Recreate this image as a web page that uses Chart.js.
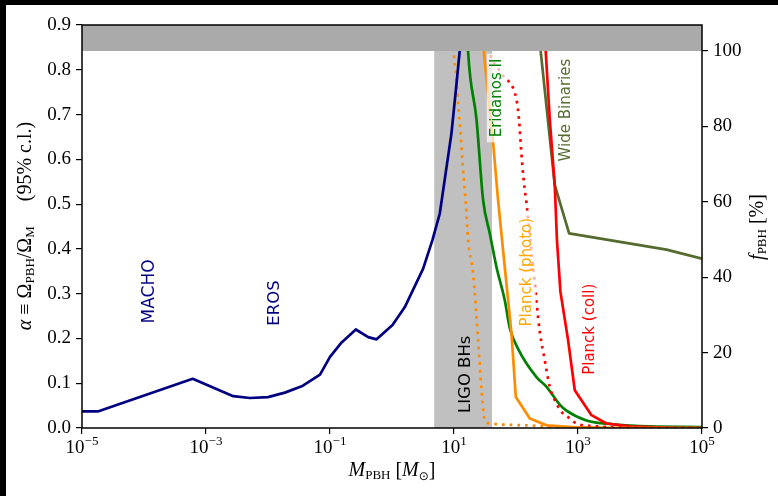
<!DOCTYPE html>
<html lang="en">
<head>
<meta charset="UTF-8">
<title>PBH abundance constraints</title>
<script src="https://cdn.jsdelivr.net/npm/chart.js@4.4.0/dist/chart.umd.min.js"></script>
<style>
  html, body { margin: 0; padding: 0; background: #000; overflow: hidden; }
  #wrap { position: absolute; left: 6px; top: 5px; width: 772px; height: 491px; background: #fff; }
</style>
</head>
<body>
<div id="wrap"><canvas id="chart" width="772" height="491"></canvas></div>
<script>
// tick values
const massTicks = [1e-5, 1e-3, 1e-1, 1e1, 1e3, 1e5];
const alphaTicks = [0.0, 0.1, 0.2, 0.3, 0.4, 0.5, 0.6, 0.7, 0.8, 0.9];
const fTicks = [0, 20, 40, 60, 80, 100];

// Omega_DM / Omega_M : alpha at f_PBH = 100%
const omegaRatio = 0.842;
const ligoBand = [4.8, 41];

// MACHO + EROS microlensing bound (alpha, left axis)
const machoErosMass = [1e-5, 1.8e-5, 6.1e-4, 2.75e-3, 5.1e-3, 1.0e-2, 1.87e-2, 3.5e-2, 6.9e-2, 0.1, 0.154, 0.261, 0.413, 0.564, 1.02, 1.61, 3.18, 4.5, 5.9, 9.1, 11.0, 12.4, 13.8];
const machoErosAlpha = [0.037, 0.037, 0.110, 0.071, 0.067, 0.069, 0.079, 0.093, 0.119, 0.159, 0.191, 0.220, 0.203, 0.198, 0.230, 0.270, 0.356, 0.420, 0.479, 0.658, 0.770, 0.844, 0.93];

// the rest are f_PBH in % (right axis)
const eridanosMass = [16.2, 16.9, 23.1, 29.5, 37.8, 48.4, 65.9, 79.4, 108, 214, 316, 508, 652, 1370, 3670, 9910, 1e5];
const eridanosF = [107, 99.7, 81.7, 60.4, 51.6, 42.7, 33.9, 26.5, 21.0, 13.5, 10.8, 6.2, 4.6, 2.0, 1.0, 0.5, 0.27];

const photoDotMass = [9.55, 9.93, 10.7, 11.6, 12.9, 14.0, 15.5, 16.9, 20.3, 24.5, 27.8, 31.4, 35.5, 148, 508, 2000, 1e5];
const photoDotF = [107, 99.8, 94.1, 86.1, 77.3, 68.4, 59.6, 49.8, 41.0, 23.3, 10.0, 2.0, 1.3, 0.7, 0.2, 0.0, 0.0];

const photoMass = [28.8, 30.3, 42.8, 51.4, 61.9, 84.5, 99.3, 167, 310, 832, 3160, 1e5];
const photoF = [107, 99.7, 75.5, 60.4, 47.1, 25.1, 8.2, 2.5, 0.7, 0.27, 0.05, 0.0];

const collDotMass = [33.1, 37.8, 51.4, 65.9, 84.5, 102, 112, 122, 133, 148, 187, 242, 291, 351, 450, 574, 692, 944, 1990, 6310, 1e5];
const collDotF = [107, 99.7, 95.4, 92.8, 91.0, 87.0, 81.7, 72.9, 65.7, 59.5, 43.1, 25.5, 18.0, 10.9, 6.5, 3.8, 2.9, 1.2, 0.45, 0.1, 0.0];

const collMass = [288, 302, 351, 423, 457, 521, 692, 887, 1650, 2880, 6820, 31600, 1e5];
const collF = [107, 99.7, 81.7, 64.0, 50.0, 36.1, 23.3, 10.0, 3.4, 1.2, 0.45, 0.05, 0.0];

const binariesMass = [240, 251, 422, 719, 26700, 1e5];
const binariesF = [107, 99.7, 64.4, 51.6, 47.3, 44.9];

// text annotations: mass, alpha position of the label centre
const notes = [
  { text: 'MACHO', color: '#000080', m: 1.25e-4, a: 0.305, size: 17, box: false },
  { text: 'EROS', color: '#000080', m: 1.29e-2, a: 0.279, size: 16.5, box: false },
  { text: 'LIGO BHs', color: '#000000', m: 15.5, a: 0.120, size: 16.5, box: false },
  { text: 'Eridanos II', color: '#008000', m: 49, a: 0.737, size: 15, box: true },
  { text: 'Planck (photo)', color: '#ffa500', m: 149, a: 0.348, size: 15, box: true },
  { text: 'Planck (coll)', color: '#ff0000', m: 1550, a: 0.2205, size: 15, box: true },
  { text: 'Wide Binaries', color: '#556b2f', m: 635, a: 0.710, size: 15, box: true }
];

const serif = "'Liberation Serif', 'DejaVu Serif', serif";
const sans = "'DejaVu Sans', sans-serif";

function pts(xs, ys) {
  return xs.map((x, i) => ({ x: x, y: ys[i] }));
}

function line(data, color, axis, dotted, smooth) {
  return {
    data: data,
    borderColor: color,
    borderWidth: 2.7,
    borderDash: dotted ? [2.7, 5] : [],
    borderJoinStyle: 'round',
    yAxisID: axis,
    pointRadius: 0,
    cubicInterpolationMode: smooth ? 'monotone' : 'default',
    tension: 0,
    fill: false
  };
}

// draw [text, font, dy] runs centred on x at baseline y
function drawRuns(ctx, runs, x, y) {
  let w = 0;
  runs.forEach(r => { ctx.font = r[1]; w += ctx.measureText(r[0]).width; });
  let cx = x - w / 2;
  ctx.textAlign = 'left';
  ctx.textBaseline = 'alphabetic';
  runs.forEach(r => {
    ctx.font = r[1];
    ctx.fillText(r[0], cx, y + (r[2] || 0));
    cx += ctx.measureText(r[0]).width;
  });
}

const decor = {
  id: 'decor',
  beforeDatasetsDraw(chart) {
    const { ctx, chartArea: a, scales: { x } } = chart;
    const x0 = x.getPixelForValue(ligoBand[0]);
    const x1 = x.getPixelForValue(ligoBand[1]);
    ctx.save();
    ctx.fillStyle = '#c0c0c0';
    ctx.fillRect(x0, a.top, x1 - x0, a.bottom - a.top);
    ctx.restore();
  },
  afterDatasetsDraw(chart) {
    const { ctx, chartArea: a, scales: { x, y, y2 } } = chart;
    ctx.save();
    // excluded region f > 100%
    const yb = y2.getPixelForValue(100);
    ctx.fillStyle = '#aaaaaa';
    ctx.fillRect(a.left, a.top, a.right - a.left, yb - a.top);

    // rotated curve labels
    notes.forEach(n => {
      ctx.save();
      ctx.translate(x.getPixelForValue(n.m), y.getPixelForValue(n.a));
      ctx.rotate(-Math.PI / 2);
      ctx.font = n.size + 'px ' + sans;
      const w = ctx.measureText(n.text).width;
      if (n.box) {
        ctx.fillStyle = 'rgba(255,255,255,0.7)';
        ctx.fillRect(-w / 2 - 5, -10, w + 10, 19);
      }
      ctx.fillStyle = n.color;
      ctx.textAlign = 'center';
      ctx.textBaseline = 'middle';
      ctx.fillText(n.text, 0, 0);
      ctx.restore();
    });

    // frame
    ctx.strokeStyle = '#000';
    ctx.lineWidth = 1.5;
    ctx.strokeRect(a.left, a.top, a.right - a.left, a.bottom - a.top);
    ctx.restore();
  },
  afterDraw(chart) {
    const { ctx, chartArea: a, scales: { x } } = chart;
    ctx.save();
    ctx.fillStyle = '#000';
    // mass tick labels as powers of ten
    x.ticks.forEach(t => {
      const e = Math.round(Math.log10(t.value));
      const sup = (e < 0 ? '\u2212' : '') + Math.abs(e);
      drawRuns(ctx, [['10', '19px ' + serif], [sup, '13px ' + serif, -8]], x.getPixelForValue(t.value), 448);
    });
    // x title
    drawRuns(ctx, [
      ['M', 'italic 20px ' + serif],
      ['PBH', '13px ' + serif, 3],
      [' [', '20px ' + serif],
      ['M', 'italic 20px ' + serif],
      ['\u2299', '12px ' + sans, 4],
      [']', '20px ' + serif]
    ], (a.left + a.right) / 2, 471);

    // left title
    ctx.save();
    ctx.translate(25, 221);
    ctx.rotate(-Math.PI / 2);
    drawRuns(ctx, [
      ['\u03b1', 'italic 20px ' + serif],
      [' \u2261 ', '20px ' + serif],
      ['\u03a9', '20px ' + serif],
      ['PBH', '13px ' + serif, 3],
      ['/\u03a9', '20px ' + serif],
      ['M', '13px ' + serif, 3],
      ['     (95% c.l.)', '20px ' + serif]
    ], 0, 0);
    ctx.restore();

    // right title
    ctx.save();
    ctx.translate(757, 222);
    ctx.rotate(-Math.PI / 2);
    drawRuns(ctx, [
      ['f', 'italic 20px ' + serif],
      ['PBH', '13px ' + serif, 3],
      [' [%]', '20px ' + serif]
    ], 0, 0);
    ctx.restore();
    ctx.restore();
  }
};

const tickFont = { family: serif, size: 19 };

new Chart(document.getElementById('chart'), {
  type: 'line',
  data: {
    datasets: [
      line(pts(machoErosMass, machoErosAlpha), '#000080', 'y', false, false),
      line(pts(photoDotMass, photoDotF), '#ff8c00', 'y2', true, true),
      line(pts(collDotMass, collDotF), '#ff0000', 'y2', true, true),
      line(pts(photoMass, photoF), '#ff8c00', 'y2', false, false),
      line(pts(collMass, collF), '#ff0000', 'y2', false, false),
      line(pts(binariesMass, binariesF), '#556b2f', 'y2', false, false),
      line(pts(eridanosMass, eridanosF), '#008000', 'y2', false, true)
    ]
  },
  options: {
    responsive: false,
    animation: false,
    layout: { padding: { top: 20, left: 0, right: 0, bottom: 0 } },
    plugins: { legend: { display: false }, tooltip: { enabled: false } },
    scales: {
      x: {
        type: 'logarithmic',
        min: 1e-5,
        max: 1e5,
        afterBuildTicks: s => { s.ticks = massTicks.map(v => ({ value: v })); },
        afterFit: s => { s.height = 68; },
        ticks: { display: false },
        grid: { drawOnChartArea: false, drawTicks: true, tickLength: 6, color: '#000', lineWidth: 1.2 },
        border: { display: false }
      },
      y: {
        position: 'left',
        min: 0,
        max: 0.9,
        afterBuildTicks: s => { s.ticks = alphaTicks.map(v => ({ value: v })); },
        afterFit: s => { s.width = 76; },
        ticks: { font: tickFont, color: '#000', padding: 5, callback: v => v.toFixed(1) },
        grid: { drawOnChartArea: false, drawTicks: true, tickLength: 6, color: '#000', lineWidth: 1.2 },
        border: { display: false }
      },
      y2: {
        position: 'right',
        min: 0,
        max: 90 / omegaRatio,
        afterBuildTicks: s => { s.ticks = fTicks.map(v => ({ value: v })); },
        afterFit: s => { s.width = 76; },
        ticks: { font: tickFont, color: '#000', padding: 5, callback: v => String(v) },
        grid: { drawOnChartArea: false, drawTicks: true, tickLength: 6, color: '#000', lineWidth: 1.2 },
        border: { display: false }
      }
    }
  },
  plugins: [decor]
});
</script>
</body>
</html>
